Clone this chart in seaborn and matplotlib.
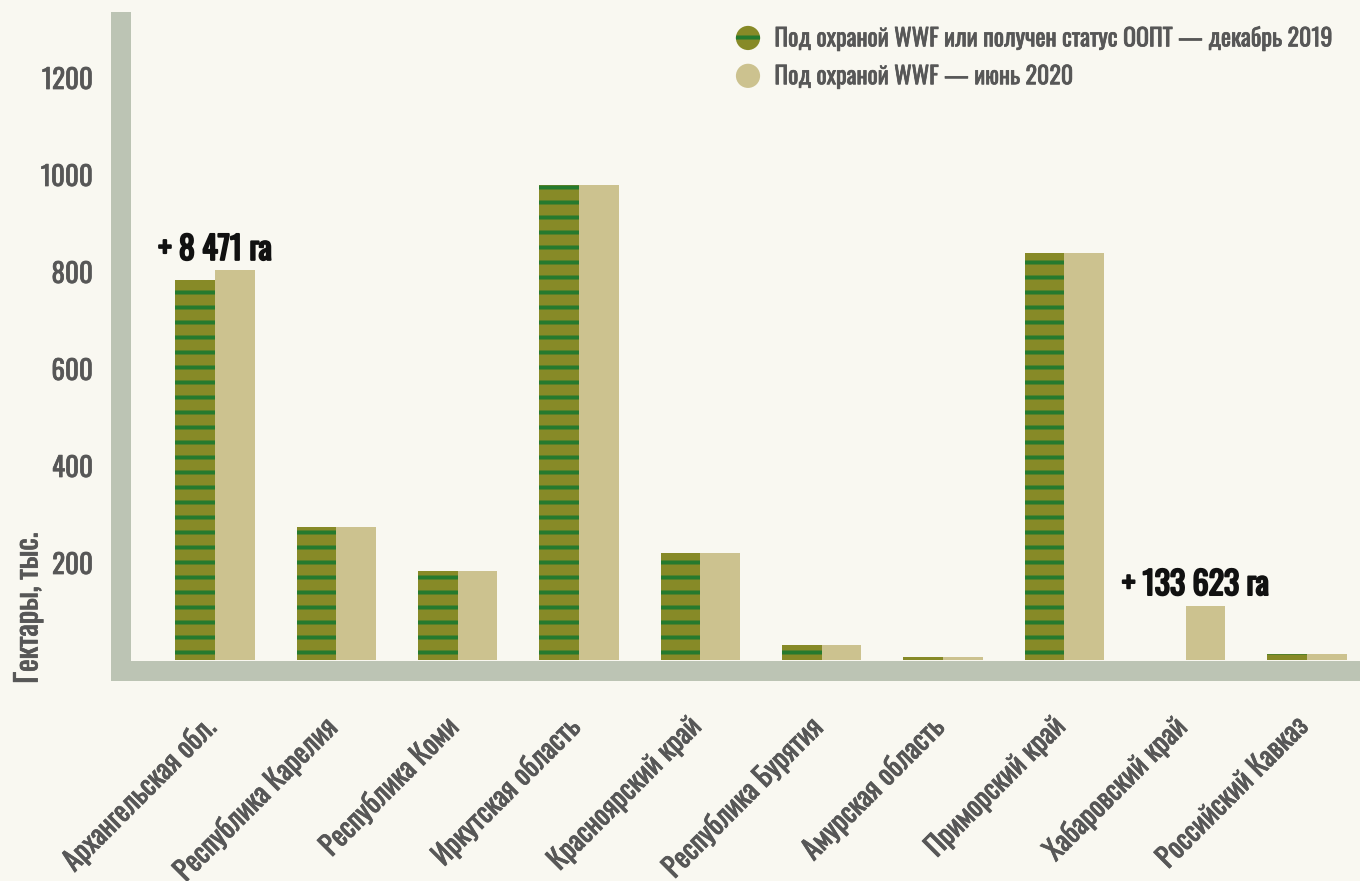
import matplotlib
matplotlib.use("Agg")
import matplotlib.pyplot as plt
import matplotlib.patches as mpatches
import matplotlib.patheffects as pe
from matplotlib.legend_handler import HandlerPatch
from matplotlib.transforms import ScaledTranslation
import seaborn as sns
import pandas as pd

# ---- data (thousand hectares) ----
regions = ["Архангельская обл.", "Республика Карелия", "Республика Коми",
           "Иркутская область", "Красноярский край", "Республика Бурятия",
           "Амурская область", "Приморский край", "Хабаровский край",
           "Российский Кавказ"]
series_names = ["Под охраной WWF или получен статус ООПТ — декабрь 2019",
                "Под охраной WWF — июнь 2020"]
dec2019 = [784, 274, 183, 979, 221, 31, 6, 839, 0, 12]
jun2020 = [804, 274, 183, 979, 221, 31, 6, 839, 111, 12]
yticks = [200, 400, 600, 800, 1000, 1200]
annotations = [(0, 825, "+ 8 471 га"), (8, 134, "+ 133 623 га")]
ylabel = "Гектары, тыс."

# ---- style ----
DPI = 90
PT = 72 / DPI  # points per pixel
BG = "#f9f8f1"
AXC = "#bcc4b4"
OLIVE = "#878a27"
GREEN = "#257a2e"
TAN = "#ccc28f"
TXT = "#575757"

sns.set_theme(style="white")
plt.rcParams["font.family"] = ["Oswald", "PT Sans Narrow", "Roboto Condensed", "DejaVu Sans"]
plt.rcParams["hatch.linewidth"] = 4 * PT

df = pd.DataFrame({
    "region": regions * 2,
    "series": [series_names[0]] * len(regions) + [series_names[1]] * len(regions),
    "value": dec2019 + jun2020,
})

fig = plt.figure(figsize=(1360 / DPI, 881 / DPI), dpi=DPI, facecolor=BG)
W, H = 1360, 881
ax = fig.add_axes([121 / W, (H - 671) / H, (W - 121) / W, (671 - 22) / H])
ax.set_facecolor(BG)

sns.barplot(data=df, x="region", y="value", hue="series", order=regions,
            hue_order=series_names, palette=[OLIVE, TAN], width=0.652,
            linewidth=0, saturation=1, legend=False, ax=ax)

for bar in ax.containers[0]:
    bar.set_hatch("-")
    bar.set_edgecolor(GREEN)
    bar.set_linewidth(0)

ypp = 200 / 97  # data units per pixel
ax.set_ylim(-11 * ypp, (660 - 22) * ypp)
xpp = 1 / 121.33
ax.set_xlim(-(215 - 121) * xpp, 9 + (1360 - 1307) * xpp)

for s in ["top", "right"]:
    ax.spines[s].set_visible(False)
for s in ["left", "bottom"]:
    ax.spines[s].set_color(AXC)
    ax.spines[s].set_linewidth(20 * PT)
    ax.spines[s].set_capstyle("projecting")

thick = [pe.withStroke(linewidth=0.6, foreground=TXT)]
ax.set_yticks(yticks)
ax.set_yticklabels([str(v) for v in yticks])
ax.tick_params(axis="y", length=0, pad=28 * PT, labelsize=27 * PT, labelcolor=TXT)
ax.tick_params(axis="x", length=0, pad=51 * PT, labelsize=28 * PT, labelcolor=TXT)
for lab in ax.get_yticklabels():
    lab.set_path_effects(thick)
for lab in ax.get_xticklabels():
    lab.set_rotation(45)
    lab.set_ha("right")
    lab.set_va("center")
    lab.set_rotation_mode("anchor")
    lab.set_path_effects(thick)
    lab.set_transform(lab.get_transform() + ScaledTranslation(-4 / DPI, 0, fig.dpi_scale_trans))
ax.set_xlabel("")
ax.set_ylabel("")
ax.grid(False)

fig.text(28 / W, 1 - 608 / H, ylabel, rotation=90, ha="center", va="center",
         fontsize=30 * PT, color=TXT, path_effects=thick)

for xi, yv, t in annotations:
    ax.text(xi + 0.08 * (xi > 0), yv, t, ha="center", va="baseline",
            fontsize=32 * PT, color="#111111",
            path_effects=[pe.withStroke(linewidth=1.6, foreground="#111111")])


class HandlerCircle(HandlerPatch):
    def create_artists(self, legend, orig_handle, xdescent, ydescent,
                       width, height, fontsize, trans):
        r = height * 0.72
        c = mpatches.Circle((width / 2 - xdescent, height / 2 - ydescent), r)
        self.update_prop(c, orig_handle, legend)
        c.set_transform(trans)
        return [c]


h1 = mpatches.Patch(facecolor=OLIVE, edgecolor=GREEN, hatch="-", linewidth=0)
h2 = mpatches.Patch(facecolor=TAN, linewidth=0)
leg = fig.legend(handles=[h1, h2], labels=series_names,
                 handler_map={mpatches.Patch: HandlerCircle()},
                 loc="upper left", bbox_to_anchor=(736 / W, 1 - 26 / H),
                 frameon=False, fontsize=24 * PT, labelspacing=0.62,
                 handlelength=1.0, handletextpad=0.6, borderpad=0,
                 borderaxespad=0)
for t in leg.get_texts():
    t.set_color(TXT)
    t.set_path_effects(thick)

fig.savefig("out.png", dpi=DPI, facecolor=BG)
